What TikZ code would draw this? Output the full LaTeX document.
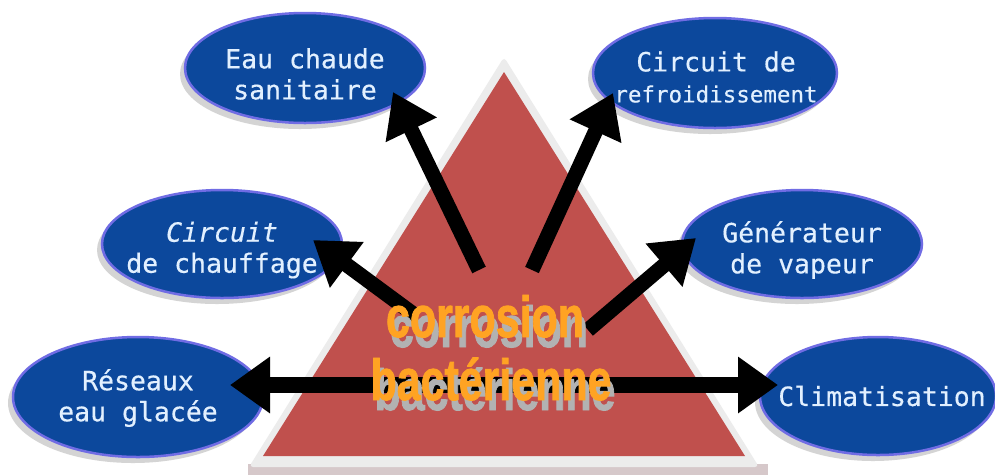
\documentclass[tikz,border=0pt]{standalone}
\usepackage{fontspec}
\usepackage{graphicx}
\setmainfont{Liberation Sans}
\newfontfamily\ellfont[FakeBold=0.4]{DejaVu Sans Mono}
\newfontfamily\ttlfont[FakeBold=1.6]{Liberation Sans Bold}
\usetikzlibrary{shapes.geometric,arrows.meta,shadows}
\definecolor{ellfill}{RGB}{12,72,156}
\definecolor{ellborder}{RGB}{112,108,228}
\definecolor{elltext}{RGB}{226,240,255}
\definecolor{trired}{RGB}{192,80,77}
\definecolor{triborder}{RGB}{236,236,236}
\definecolor{trishadow}{RGB}{214,200,202}
\definecolor{titleorange}{RGB}{255,163,35}
\definecolor{titleshadow}{RGB}{178,178,178}
\tikzset{
  ell/.style={ellipse, fill=ellfill, draw=ellborder, line width=2.5pt,
    inner sep=0pt,
    drop shadow={shadow xshift=-5pt, shadow yshift=-6pt, fill=gray!60, opacity=0.55}},
  elltxt/.style={inner sep=0pt, align=center, text=elltext,
    font=\ellfont\fontsize{26.5}{31}\selectfont},
  arr/.style={line width=15pt, black, -{Triangle[length=42pt,width=54pt]}},
  title/.style={inner sep=0pt, anchor=base},
}
\newcommand{\ttl}[1]{\scalebox{0.74}[1]{\ttlfont\fontsize{58}{58}\selectfont #1}}
\begin{document}
\begin{tikzpicture}[x=1pt,y=-1pt]
\useasboundingbox (0,0) rectangle (995,475);
\fill[white] (0,0) rectangle (995,475);

% ellipses
\node[ell, minimum width=240pt, minimum height=110pt] (e1) at (305,68) {};
\node[ell, minimum width=244pt, minimum height=110pt] (e2) at (715,73) {};
\node[ell, minimum width=240pt, minimum height=108pt] (e3) at (222,244) {};
\node[ell, minimum width=240pt, minimum height=108pt] (e4) at (802,244) {};
\node[ell, minimum width=250pt, minimum height=120pt] (e5) at (138,397) {};
\node[ell, minimum width=236pt, minimum height=118pt] (e6) at (878,396) {};
\node[elltxt] (l1) at (305,74) {Eau chaude\\sanitaire};
\node[elltxt] (l2) at (716,77) {Circuit de\\{\fontsize{22.5}{26}\selectfont refroidissement}};
\node[elltxt] (l3) at (222,250) {\itshape Circuit\\de chauffage};
\node[elltxt] (l4) at (802,250) {Générateur\\de vapeur};
\node[elltxt] (l5) at (138,398) {Réseaux\\eau glacée};
\node[elltxt] (l6) at (882,396) {Climatisation};

% triangle
\fill[trishadow] (248,464) rectangle (768,475);
\fill[triborder, rounded corners=4pt] (504,57) -- (249,467) -- (759,467) -- cycle;
\fill[trired] (504,72) -- (263,456) -- (745,456) -- cycle;

% arrows
\coordinate (c1) at (479,270);
\coordinate (t1) at (393,92);
\coordinate (c2) at (532,270);
\coordinate (t2) at (613,93);
\coordinate (c3) at (416,316);
\coordinate (t3) at (313,240);
\coordinate (c4) at (588,330);
\coordinate (t4) at (696,238);
\coordinate (t5) at (230,385);
\coordinate (t6) at (778,385);
\draw[arr] (c1) -- (t1);
\draw[arr] (c2) -- (t2);
\draw[arr] (c3) -- (t3);
\draw[arr] (c4) -- (t4);
\draw[arr, line width=16pt, {Triangle[length=40pt,width=54pt]}-{Triangle[length=40pt,width=54pt]}] (t5) -- (t6);

% title with shadow
\node[title, text=titleshadow] (s1) at (489,347) {\ttl{corrosion}};
\node[title, text=titleshadow] (s2) at (495,410) {\ttl{bactérienne}};
\node[title, text=titleorange] (n1) at (485,337) {\ttl{corrosion}};
\node[title, text=titleorange] (n2) at (491,400) {\ttl{bactérienne}};
\end{tikzpicture}
\end{document}
